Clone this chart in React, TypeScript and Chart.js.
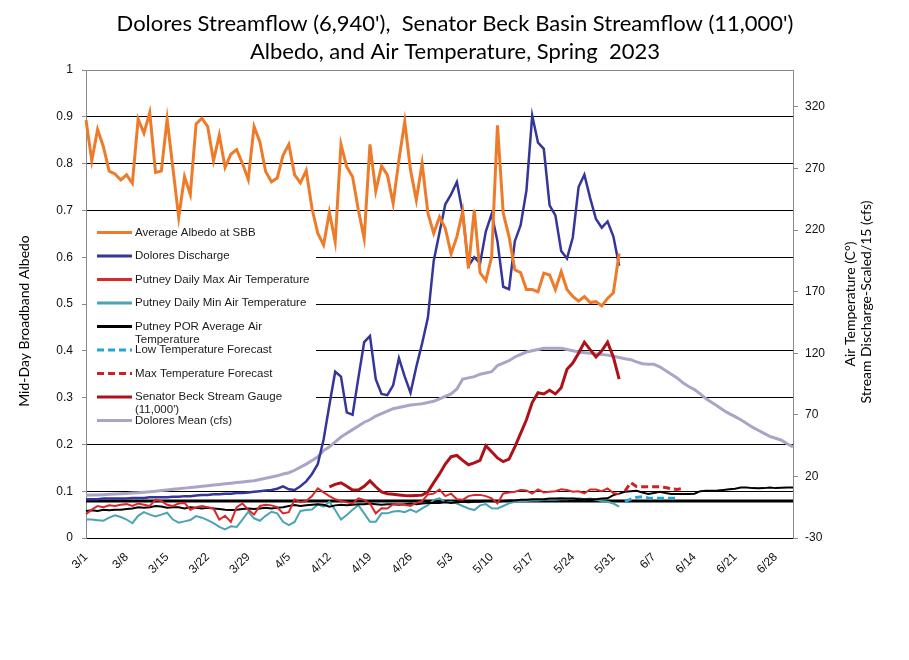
import React, { useEffect, useRef } from 'react';
import { Chart, registerables } from 'chart.js';

Chart.register(...registerables);

// ---------- categories ----------
const monthDays: [number, number][] = [[3, 31], [4, 30], [5, 31], [6, 30], [7, 1]];
const categories: string[] = [];
monthDays.forEach(([m, n]) => { for (let d = 1; d <= n; d++) categories.push(`${m}/${d}`); });

const tickLabels = ['3/1', '3/8', '3/15', '3/22', '3/29', '4/5', '4/12', '4/19', '4/26', '5/3', '5/10', '5/17', '5/24', '5/31', '6/7', '6/14', '6/21', '6/28'];
const rightTicks = [-30, 20, 70, 120, 170, 220, 270, 320];

const titleLines = ["Dolores Streamflow (6,940'),  Senator Beck Basin Streamflow (11,000')", 'Albedo, and Air Temperature, Spring  2023'];
const leftTitle = 'Mid-Day Broadband Albedo';
const rightTitle1 = 'Air Temperature (C°)';
const rightTitle2 = 'Stream Discharge-Scaled/15 (cfs)';

// ---------- series (left axis) ----------
const albedo = [
  0.893, 0.806, 0.873, 0.836, 0.784, 0.778, 0.765, 0.776, 0.758, 0.895,
  0.865, 0.909, 0.781, 0.784, 0.895, 0.79, 0.685, 0.772, 0.734, 0.885,
  0.897, 0.879, 0.806, 0.861, 0.792, 0.82, 0.83, 0.80, 0.766, 0.879,
  0.847, 0.783, 0.761, 0.769, 0.818, 0.841, 0.776, 0.759, 0.785, 0.704,
  0.651, 0.626, 0.696, 0.633, 0.841, 0.793, 0.772, 0.701, 0.64, 0.841,
  0.741, 0.795, 0.776, 0.715, 0.808, 0.89, 0.786, 0.722, 0.80, 0.694,
  0.651, 0.686, 0.662, 0.607, 0.644, 0.698, 0.576, 0.701, 0.567, 0.55,
  0.601, 0.882, 0.694, 0.644, 0.573, 0.567, 0.531, 0.531, 0.526, 0.566,
  0.562, 0.531, 0.569, 0.531, 0.516, 0.506, 0.516, 0.503, 0.505, 0.496,
  0.512, 0.524, 0.608,
];

// ---------- series (right axis) ----------
const doloresDischarge = [
  1.5, 1.5, 1.5, 2, 2, 2, 2, 2, 2.5, 2.5,
  2.5, 3, 3, 3, 3, 3.5, 3.5, 4, 4, 4.5,
  5, 5, 5.5, 5.5, 6, 6, 6.5, 6.5, 7, 7.5,
  8, 8.5, 9, 10, 12, 9.5, 9, 12, 16, 22,
  30, 50, 78, 105, 101, 72, 70, 100, 129, 134,
  99, 87, 86, 94, 116, 101, 88, 109, 128, 149,
  195, 218, 241, 249, 259, 234, 191, 198, 193, 219,
  233, 211, 174, 172, 211, 224, 252, 313, 291, 286,
  240, 232, 203, 197, 214, 255, 265, 246, 229, 222,
  227, 215, 191,
];

const putneyMax = [
  -10.6, -7, -4, -5, -3.5, -4, -3, -2.5, -4, -2,
  -3, -4, 1, 0, -3, -4, -2, -1.5, -7, -5,
  -4, -5, -6, -15, -12, -17, -5, -2, -7, -11,
  -4, -3, -3.5, -5, -10, -9, 1.4, -1, 0, 4,
  10.3, 7, 4, 1.4, 0, -1, -1.9, 2.2, 1, -2,
  -10, -5.9, -6, -2.5, -2.5, -3, -4, -1.5, 0, 5.4,
  6, 9.4, 4, 6, 1.5, 1, 4, 5, 5, 4,
  2.2, -1.9, 6.2, 7, 7.5, 8.9, 8.5, 6, 9.5, 7,
  7.5, 8, 9.5, 9, 7.5, 8, 6.2, 9.4, 9.4, 8,
  10.3, 6.5, 5.7,
];

const putneyMin = [
  -15, -15, -15.5, -16, -13.5, -11.5, -13, -15, -18, -12,
  -9, -11, -12.5, -11, -9.5, -15, -17.6, -16.5, -15.4, -12.2,
  -13.5, -15.5, -18, -21, -23, -20.5, -21, -15, -8.7, -14,
  -16, -12, -8.7, -10, -16.8, -19.5, -17, -8, -7.3, -6.8,
  -2.7, -4.5, -0.6, -7.3, -15, -11.4, -7, -3.3, -10, -16.8,
  -16.8, -10, -10, -8.5, -8, -9, -7, -9, -6, -3.3,
  1, 2.2, -1, -0.5, -2, -4, -6, -7.3, -3.5, -2.5,
  -5.9, -6, -4, -1.9, -0.5, 0, 0, 0.5, 0.5, 1,
  1, 1, 1.5, 1.5, 2, 2.2, 1.5, 2, 1, 0,
  -0.6, -2, -4.5,
];

const putneyPOR = [
  -8, -7.5, -8, -7, -7.5, -7, -7, -6.5, -6, -5, -5.5,
  -5, -4, -4.5, -5.5, -5, -5, -6, -5, -5.5, -6,
  -5.5, -6, -6.5, -7, -7.3, -7, -6.5, -6, -6.5, -6,
  -5.5, -6, -5.5, -5, -4, -3.3, -4, -3.5, -3, -2.5,
  -3, -4.6, -3.5, -3, -3.5, -3, -2.5, -2.5, -2, -2.5,
  -3, -2.5, -2.5, -3, -2.5, -2, -2.5, -2, -1.5, -1.5,
  -1.5, -1, -1.5, -1, -0.5, -1, -0.5, -0.5, 0, 0.2,
  -0.5, 0, 0.5, 0.5, 1, 1, 1.5, 1.5, 1.5, 2,
  2, 2.2, 2, 2, 1.5, 1.5, 1.5, 1.5, 2, 2.2,
  4.8, 6, 7.5, 8, 8.3, 7, 5.7, 6.5, 7.5, 6.5,
  5.7, 5.7, 5.7, 5.7, 6, 8, 8.3, 8.3, 8.5, 9,
  9.5, 10, 11, 11, 10.5, 10.3, 10.5, 11, 10.5, 10.8, 11, 11.1,
];

const forecastStart = 93;
const lowForecast = [-0.5, 1.5, 3, 3.5, 2.5, 2.2, 2.2, 2.2, 2.2, 2.2];
const maxForecast = [8, 15, 11.8, 11.6, 11.6, 11.6, 11.6, 11, 10, 9.4, 10.3];

const senatorBeckStart = 42;
const senatorBeck = [
  11.6, 13.5, 14.8, 12, 8.9, 8.9, 12, 16.4, 11.6, 7.5,
  6, 5.5, 5, 4.5, 4.3, 4.5, 4.8, 7.5, 15, 22,
  30, 36, 37, 33, 29.5, 31, 33, 45, 40, 35,
  32, 34, 44, 55, 66, 80, 88, 87, 90, 87,
  92, 107, 112, 120, 129, 123, 117, 122, 129, 117,
  99,
];

const doloresMean = [
  4.8, 5, 5, 5.2, 5.5, 5.8, 6, 6.2, 6.5, 6.8, 7.2,
  7.5, 8, 8.5, 9, 9.5, 10, 10.5, 11, 11.5, 12,
  12.5, 13, 13.5, 14, 14.5, 15, 15.5, 16, 16.5, 17.5,
  18.5, 19.5, 20.5, 22, 23, 25, 27.5, 30, 33, 36,
  41, 44, 48, 52, 55, 58, 61, 64, 66, 69,
  71, 73, 75, 76, 77, 78, 78.5, 79, 80, 81,
  83, 85, 87, 91, 99, 100, 101, 103, 104, 105,
  110, 112, 114, 117, 119, 121, 122, 123, 124, 124,
  124, 124, 123, 122, 121, 120.5, 120, 119.5, 119, 118.5,
  117.5, 116.5, 115.5, 114.8, 113, 111.5, 111, 111, 109, 106,
  103, 100, 96, 93, 90.5, 87, 83, 80, 77, 73.7,
  71, 68.5, 66, 63, 60, 57.5, 55, 52.5, 51, 49.4, 46.5, 44,
];

const freezingLevel = 0;

// ---------- helpers ----------
const pad = (arr: number[], start: number) =>
  categories.map((_, i) => (i >= start && i - start < arr.length ? arr[i - start] : null));

const C = {
  albedo: '#EE7B2A',
  discharge: '#34369A',
  max: '#D9282A',
  min: '#4BA3B3',
  por: '#000000',
  lowF: '#22A6D8',
  maxF: '#D21F26',
  sb: '#AE1219',
  mean: '#ABA4C6',
};

const legendItems = [
  { lines: ['Average Albedo at SBB'], color: C.albedo, dash: [] as number[] },
  { lines: ['Dolores Discharge'], color: C.discharge, dash: [] as number[] },
  { lines: ['Putney Daily Max Air Temperature'], color: C.max, dash: [] as number[] },
  { lines: ['Putney Daily Min Air Temperature'], color: C.min, dash: [] as number[] },
  { lines: ['Putney POR Average Air', 'Temperature'], color: C.por, dash: [] as number[] },
  { lines: ['Low Temperature Forecast'], color: C.lowF, dash: [7, 4] },
  { lines: ['Max Temperature Forecast'], color: C.maxF, dash: [7, 4] },
  { lines: ['Senator Beck Stream Gauge', "(11,000')"], color: C.sb, dash: [] as number[] },
  { lines: ['Dolores Mean (cfs)'], color: C.mean, dash: [] as number[] },
];

const TICK_FONT = { family: '"Liberation Sans", Arial, sans-serif', size: 12 };
const TITLE_FAMILY = 'Lato, "Open Sans", sans-serif';

const decorPlugin = {
  id: 'decor',
  beforeDatasetsDraw(chart: any) {
    const ctx = chart.ctx;
    const { left } = chart.chartArea;
    const ys = chart.scales.y;
    const top = ys.getPixelForValue(0.7);
    const bottom = ys.getPixelForValue(0.2);
    ctx.save();
    ctx.fillStyle = '#ffffff';
    ctx.fillRect(left + 1, top + 1, 229, bottom - top - 2);
    ctx.font = '11.5px "Liberation Sans", Arial, sans-serif';
    ctx.textBaseline = 'middle';
    ctx.textAlign = 'left';
    legendItems.forEach((it, k) => {
      const y = top + 22 + k * 23.5;
      ctx.beginPath();
      ctx.setLineDash(it.dash);
      ctx.strokeStyle = it.color;
      ctx.lineWidth = 3;
      ctx.moveTo(left + 11, y);
      ctx.lineTo(left + 46, y);
      ctx.stroke();
      ctx.setLineDash([]);
      ctx.fillStyle = '#1a1a1a';
      it.lines.forEach((ln, j) => ctx.fillText(ln, left + 49, y + j * 13));
    });
    ctx.restore();
  },
  afterDraw(chart: any) {
    const ctx = chart.ctx;
    const { top, bottom } = chart.chartArea;
    const mid = (top + bottom) / 2;
    ctx.save();
    ctx.fillStyle = '#000';
    ctx.textAlign = 'center';
    ctx.textBaseline = 'middle';
    ctx.font = `22px ${TITLE_FAMILY}`;
    ctx.fillText(titleLines[0], 455, 24);
    ctx.fillText(titleLines[1], 455, 52);
    ctx.font = `14px ${TITLE_FAMILY}`;
    ctx.save();
    ctx.translate(24, mid + 17);
    ctx.rotate(-Math.PI / 2);
    ctx.fillText(leftTitle, 0, 0);
    ctx.restore();
    ctx.save();
    ctx.translate(850, mid);
    ctx.rotate(-Math.PI / 2);
    ctx.fillText(rightTitle1, 0, 0);
    ctx.restore();
    ctx.save();
    ctx.translate(866, mid - 2);
    ctx.rotate(-Math.PI / 2);
    ctx.fillText(rightTitle2, 0, 0);
    ctx.restore();
    ctx.restore();
  },
};

export default function App() {
  const ref = useRef<HTMLCanvasElement | null>(null);

  useEffect(() => {
    if (!ref.current) return;
    const line = (label: string, data: any[], color: string, width: number, axis: string, extra: any = {}) => ({
      label, data, borderColor: color, backgroundColor: color, borderWidth: width, yAxisID: axis,
      pointRadius: 0, tension: 0, fill: false, spanGaps: false, ...extra,
    });
    const datasets = [
      line('Average Albedo at SBB', pad(albedo, 0), C.albedo, 3, 'y'),
      line('Dolores Discharge', pad(doloresDischarge, 0), C.discharge, 2.5, 'y2'),
      line('Senator Beck Stream Gauge (11,000\')', pad(senatorBeck, senatorBeckStart), C.sb, 3, 'y2'),
      line('Max Temperature Forecast', pad(maxForecast, forecastStart), C.maxF, 3, 'y2', { borderDash: [7, 4] }),
      line('Low Temperature Forecast', pad(lowForecast, forecastStart), C.lowF, 3, 'y2', { borderDash: [7, 4] }),
      line('Putney Daily Max Air Temperature', pad(putneyMax, 0), C.max, 2, 'y2'),
      line('Putney POR Average Air Temperature', pad(putneyPOR, 0), C.por, 2, 'y2'),
      line('Putney Daily Min Air Temperature', pad(putneyMin, 0), C.min, 2, 'y2'),
      line('Freezing', categories.map(() => freezingLevel), '#000', 3, 'y2'),
      line('Dolores Mean (cfs)', pad(doloresMean, 0), C.mean, 3, 'y2'),
    ];

    const chart = new Chart(ref.current, {
      type: 'line',
      data: { labels: categories, datasets },
      options: {
        responsive: false,
        animation: false,
        layout: { padding: { top: 70, left: 0, right: 0, bottom: 0 } },
        plugins: { legend: { display: false }, tooltip: { enabled: false }, title: { display: false } },
        scales: {
          x: {
            type: 'category',
            grid: { display: false },
            border: { display: true, color: '#000', width: 1 },
            ticks: {
              autoSkip: false, maxRotation: 45, minRotation: 45, padding: 4,
              font: TICK_FONT, color: '#111',
              callback: (_v: any, i: number) => (tickLabels.includes(categories[i]) ? categories[i] : ''),
            },
            afterFit: (s: any) => { s.height = 122; },
          },
          y: {
            position: 'left', min: 0, max: 1,
            ticks: {
              stepSize: 0.1, padding: 9, font: TICK_FONT, color: '#111',
              callback: (v: any) => (Math.abs(v) < 1e-9 ? '0' : Math.abs(v - 1) < 1e-9 ? '1' : Number(v).toFixed(1)),
            },
            grid: {
              color: (c: any) => (c.tick && Math.abs(c.tick.value - 1) < 1e-9 ? '#8a8a8a' : '#000'),
              tickColor: '#8a8a8a', tickLength: 4, lineWidth: 1,
            },
            border: { display: true, color: '#8a8a8a' },
            afterFit: (s: any) => { s.width = 86; },
          },
          y2: {
            position: 'right', min: -30, max: 350,
            afterBuildTicks: (s: any) => { s.ticks = rightTicks.map((v) => ({ value: v })); },
            ticks: { padding: 7, font: TICK_FONT, color: '#111' },
            grid: { drawOnChartArea: false, tickLength: 5, color: '#8a8a8a' },
            border: { display: true, color: '#8a8a8a' },
            afterFit: (s: any) => { s.width = 116; },
          },
        },
      } as any,
      plugins: [decorPlugin],
    });
    return () => chart.destroy();
  }, []);

  return (
    <div style={{ position: 'absolute', left: 0, top: 0, width: 909, height: 660, background: '#fff' }}>
      <canvas ref={ref} width={909} height={660} style={{ display: 'block' }} />
    </div>
  );
}
